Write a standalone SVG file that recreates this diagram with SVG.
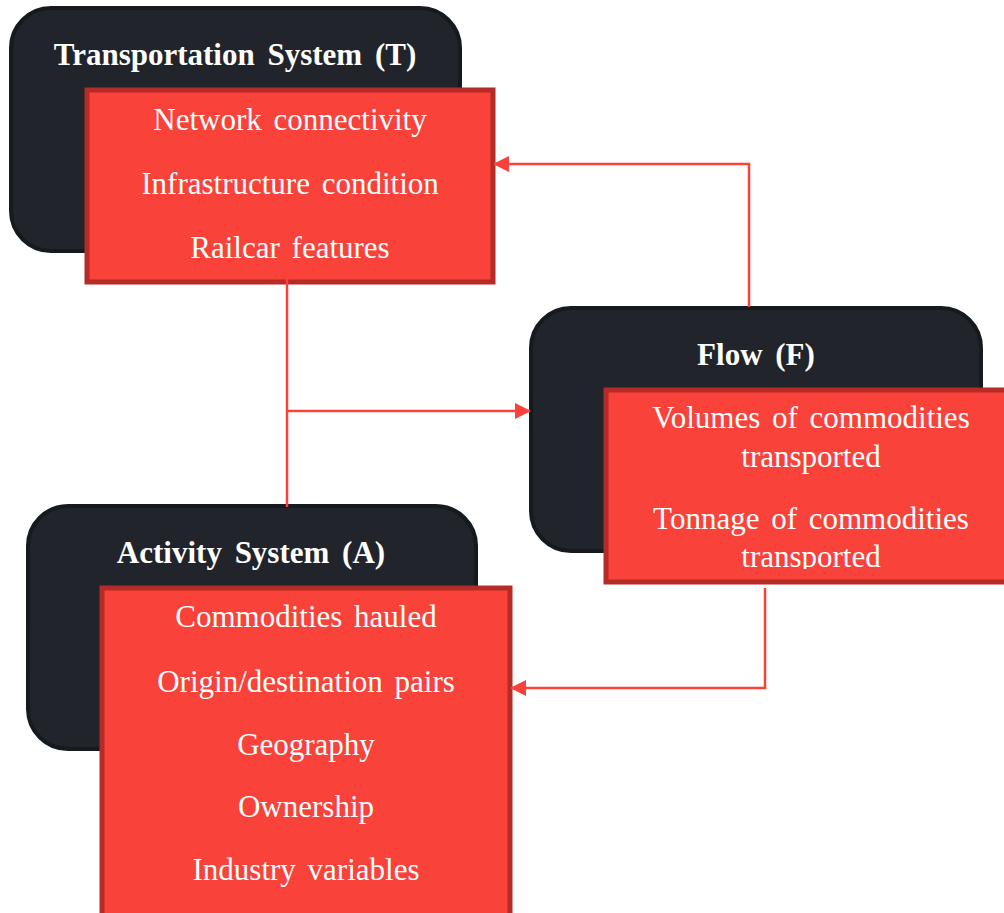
<svg xmlns="http://www.w3.org/2000/svg" width="1004" height="913" viewBox="0 0 1004 913">
<defs>
<style>
.dark{fill:#21252b;stroke:#151a1e;stroke-width:4}
.red{fill:#f9423a;stroke:#b52b27;stroke-width:5}
.title{font-family:'Liberation Serif',serif;font-weight:bold;font-size:31px;fill:#ffffff;text-anchor:middle;word-spacing:5px}
.item{font-family:'Liberation Serif',serif;font-size:31px;fill:#ffffff;text-anchor:middle;word-spacing:4px}
.conn{fill:none;stroke:#f9423a;stroke-width:2.5}
</style>
<marker id="arr" viewBox="0 0 16 16" refX="15" refY="8" markerWidth="16" markerHeight="16" markerUnits="userSpaceOnUse" orient="auto">
<path d="M0,0 L16,8 L0,16 Z" fill="#f9423a"/>
</marker>
<clipPath id="clipF"><rect x="600" y="380" width="420" height="189"/></clipPath>
</defs>
<g id="node-T">
<rect class="dark" x="11" y="8" width="449" height="243" rx="40"/>
<text class="title" x="235" y="65">Transportation System (T)</text>
<rect class="red" x="87" y="90" width="406" height="192"/>
<text class="item" x="290" y="130">Network connectivity</text>
<text class="item" x="290" y="194">Infrastructure condition</text>
<text class="item" x="290" y="258">Railcar features</text>
</g>
<g id="node-F">
<rect class="dark" x="531" y="308" width="450" height="243" rx="40"/>
<text class="title" x="756" y="365">Flow (F)</text>
<rect class="red" x="606" y="390" width="412" height="192"/>
<g clip-path="url(#clipF)">
<text class="item" x="811" y="428">Volumes of commodities</text>
<text class="item" x="811" y="467">transported</text>
<text class="item" x="811" y="529">Tonnage of commodities</text>
<text class="item" x="811" y="567">transported</text>
</g>
</g>
<g id="node-A">
<rect class="dark" x="28" y="506" width="448" height="243" rx="40"/>
<text class="title" x="251" y="563">Activity System (A)</text>
<rect class="red" x="102" y="588" width="408" height="340"/>
<text class="item" x="306" y="627">Commodities hauled</text>
<text class="item" x="306" y="692">Origin/destination pairs</text>
<text class="item" x="306" y="755">Geography</text>
<text class="item" x="306" y="817">Ownership</text>
<text class="item" x="306" y="880">Industry variables</text>
</g>
<g id="connectors">
<path class="conn" d="M287,250 L287,507"/>
<path class="conn" d="M287,411 L530,411" marker-end="url(#arr)"/>
<path class="conn" d="M749,307 L749,164 L494,164" marker-end="url(#arr)"/>
<path class="conn" d="M765,588 L765,688 L511,688" marker-end="url(#arr)"/>
</g>
</svg>
